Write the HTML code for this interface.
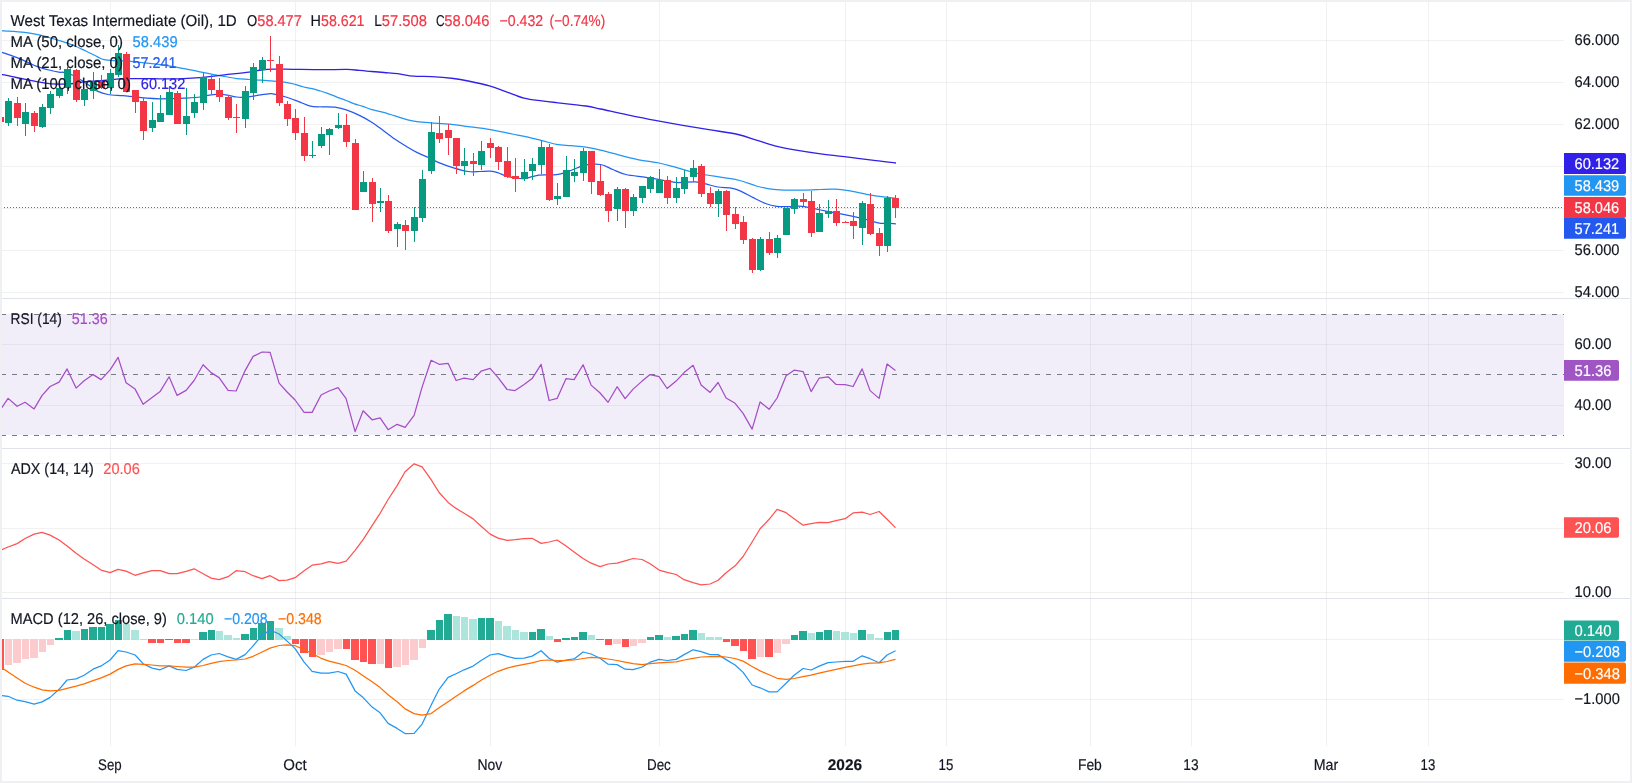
<!DOCTYPE html>
<html><head><meta charset="utf-8"><title>West Texas Intermediate (Oil)</title>
<style>html,body{margin:0;padding:0;background:#fff;}body{width:1632px;height:783px;overflow:hidden;}svg{display:block;}text{font-family:"Liberation Sans", sans-serif;}</style>
</head><body><div style="will-change:transform;width:1632px;height:783px">
<svg width="1632" height="783" viewBox="0 0 1632 783" text-rendering="geometricPrecision">
<rect x="0" y="0" width="1632" height="783" fill="#EEF0F4"/>
<rect x="2" y="2" width="1628" height="779" fill="#fff"/>
<g shape-rendering="crispEdges" fill="rgba(42,46,57,0.065)">
<rect x="110" y="2" width="1" height="744"/>
<rect x="295" y="2" width="1" height="744"/>
<rect x="490" y="2" width="1" height="744"/>
<rect x="659" y="2" width="1" height="744"/>
<rect x="845" y="2" width="1" height="744"/>
<rect x="946" y="2" width="1" height="744"/>
<rect x="1090" y="2" width="1" height="744"/>
<rect x="1191" y="2" width="1" height="744"/>
<rect x="1326" y="2" width="1" height="744"/>
<rect x="1428" y="2" width="1" height="744"/>
<rect x="2" y="40" width="1562" height="1"/>
<rect x="2" y="82" width="1562" height="1"/>
<rect x="2" y="124" width="1562" height="1"/>
<rect x="2" y="166" width="1562" height="1"/>
<rect x="2" y="208" width="1562" height="1"/>
<rect x="2" y="250" width="1562" height="1"/>
<rect x="2" y="292" width="1562" height="1"/>
<rect x="2" y="344" width="1562" height="1"/>
<rect x="2" y="405" width="1562" height="1"/>
<rect x="2" y="463" width="1562" height="1"/>
<rect x="2" y="528" width="1562" height="1"/>
<rect x="2" y="592" width="1562" height="1"/>
<rect x="2" y="639" width="1562" height="1"/>
<rect x="2" y="699" width="1562" height="1"/>
</g>
<g shape-rendering="crispEdges" fill="#E0E3EB">
<rect x="2" y="298" width="1628" height="1"/>
<rect x="2" y="448" width="1628" height="1"/>
<rect x="2" y="598" width="1628" height="1"/>
</g>
<rect x="2" y="314" width="1562" height="121" fill="rgba(126,87,194,0.1)"/>
<line x1="1" y1="314.5" x2="1564" y2="314.5" stroke="#787B86" stroke-width="1" stroke-dasharray="5 6" shape-rendering="crispEdges"/>
<line x1="1" y1="374.5" x2="1564" y2="374.5" stroke="#787B86" stroke-width="1" stroke-dasharray="5 6" shape-rendering="crispEdges"/>
<line x1="1" y1="435.5" x2="1564" y2="435.5" stroke="#787B86" stroke-width="1" stroke-dasharray="5 6" shape-rendering="crispEdges"/>
<path d="M1.2 30.7 C5.1 31.0 18.6 31.7 24.5 32.3 C30.4 32.9 32.7 33.5 36.8 34.4 C40.9 35.3 44.9 36.4 49.0 37.5 C53.1 38.6 57.2 39.9 61.3 41.2 C65.4 42.5 69.5 43.9 73.6 45.5 C77.7 47.1 81.7 49.1 85.8 51.0 C89.9 52.9 95.0 55.7 98.0 57.1 C101.0 58.5 100.9 59.0 104.0 59.6 C107.1 60.2 112.4 60.5 116.5 60.8 C120.6 61.1 123.7 60.8 128.8 61.2 C133.9 61.6 139.8 62.4 147.0 63.2 C154.2 64.0 162.9 64.9 171.7 66.3 C180.5 67.7 193.2 70.5 200.0 71.8 C206.8 73.1 208.2 73.5 212.3 74.3 C216.4 75.1 220.4 75.8 224.5 76.5 C228.6 77.2 232.7 78.1 236.8 78.6 C240.9 79.1 244.9 79.2 249.0 79.5 C253.1 79.8 257.2 79.9 261.3 80.2 C265.4 80.5 269.5 80.8 273.6 81.1 C277.7 81.4 282.2 81.8 285.8 82.3 C289.4 82.8 292.0 83.5 295.0 84.3 C298.0 85.1 300.7 86.3 303.6 87.0 C306.5 87.7 309.4 88.0 312.2 88.7 C315.0 89.4 317.7 90.2 320.5 91.0 C323.3 91.8 326.0 92.8 328.8 93.8 C331.6 94.8 334.6 96.2 337.5 97.3 C340.4 98.4 343.3 99.4 346.1 100.5 C348.9 101.6 351.6 102.9 354.4 103.9 C357.2 104.9 359.9 105.4 362.7 106.3 C365.5 107.2 368.2 108.6 371.0 109.4 C373.8 110.2 376.5 110.7 379.3 111.4 C382.1 112.1 385.0 112.8 387.6 113.6 C390.2 114.3 390.6 114.6 395.0 115.9 C399.4 117.2 407.7 120.0 413.8 121.2 C419.9 122.4 424.9 122.3 431.5 122.9 C438.1 123.5 447.4 124.1 453.5 124.7 C459.6 125.3 462.1 125.8 468.2 126.6 C474.3 127.4 482.9 128.4 490.3 129.6 C497.7 130.8 506.3 132.8 512.4 134.0 C518.5 135.2 522.1 135.8 527.0 136.9 C531.9 138.0 536.9 139.4 541.8 140.6 C546.7 141.8 551.6 143.5 556.5 144.3 C561.4 145.2 566.3 145.2 571.2 145.7 C576.1 146.2 581.0 146.5 585.9 147.2 C590.8 147.9 595.2 148.8 600.6 150.1 C606.0 151.4 612.4 153.2 618.4 154.8 C624.4 156.4 630.0 158.0 636.8 159.4 C643.5 160.8 652.8 161.8 658.9 163.0 C665.0 164.2 668.1 165.2 673.6 166.7 C679.1 168.2 686.5 170.8 692.0 172.2 C697.5 173.6 701.2 174.1 706.7 175.0 C712.2 175.9 719.5 176.9 725.0 177.8 C730.5 178.7 734.6 179.1 739.8 180.5 C745.0 181.9 751.4 184.6 756.3 186.0 C761.2 187.4 764.6 188.1 769.2 188.8 C773.8 189.5 778.4 189.9 783.9 190.1 C789.4 190.3 796.2 190.2 802.3 190.1 C808.4 190.0 815.2 189.7 820.7 189.5 C826.2 189.3 830.8 189.0 835.4 189.2 C840.0 189.4 843.1 189.8 848.3 190.6 C853.5 191.4 861.2 193.3 866.7 194.3 C872.2 195.3 876.6 196.0 881.4 196.7 C886.2 197.4 893.1 198.0 895.5 198.3" fill="none" stroke="#2196F3" stroke-width="1.25" stroke-linejoin="round" stroke-linecap="round"/>
<path d="M1.2 52.2 C3.1 52.8 8.4 54.5 12.3 55.9 C16.2 57.3 20.4 59.1 24.5 60.8 C28.6 62.5 32.7 64.8 36.8 66.3 C40.9 67.8 45.3 69.0 49.0 70.0 C52.7 71.0 56.4 71.8 58.9 72.2 C61.4 72.6 61.3 71.9 63.8 72.4 C66.2 73.0 70.9 74.4 73.6 75.5 C76.2 76.6 77.7 78.0 79.7 79.2 C81.7 80.4 82.8 80.9 85.8 82.9 C88.8 84.9 94.3 89.5 98.0 91.4 C101.7 93.3 103.9 93.8 108.0 94.5 C112.1 95.2 118.1 95.3 122.6 95.7 C127.1 96.1 130.8 96.6 134.9 97.0 C139.0 97.4 142.9 97.9 147.0 98.2 C151.1 98.5 155.3 98.7 159.4 98.8 C163.5 98.9 167.6 98.7 171.7 98.6 C175.8 98.5 179.3 98.5 184.0 98.2 C188.7 97.9 196.1 97.5 200.0 97.0 C203.9 96.5 204.7 95.9 207.4 95.4 C210.1 95.0 213.2 94.4 216.0 94.3 C218.8 94.2 221.0 94.1 224.5 94.6 C228.0 95.0 233.7 96.5 236.8 97.0 C239.9 97.5 240.0 97.5 243.0 97.3 C246.0 97.1 250.5 96.4 255.0 95.8 C259.5 95.2 266.5 93.9 270.0 93.7 C273.5 93.5 273.4 94.0 276.0 94.6 C278.6 95.1 282.1 95.9 285.8 97.0 C289.5 98.1 293.9 99.8 298.0 101.3 C302.1 102.8 306.3 105.3 310.4 106.2 C314.5 107.1 318.5 106.6 322.6 106.8 C326.7 107.0 330.8 106.7 334.9 107.2 C339.0 107.8 342.9 108.7 347.0 110.1 C351.1 111.5 355.3 113.4 359.4 115.4 C363.5 117.4 368.3 120.1 371.7 122.2 C375.1 124.3 376.2 125.3 380.0 128.1 C383.8 130.9 390.3 136.0 394.7 139.1 C399.1 142.2 402.8 144.3 406.5 146.5 C410.2 148.7 413.1 150.6 416.8 152.4 C420.5 154.2 424.8 155.8 428.5 157.5 C432.2 159.2 434.6 160.9 438.8 162.6 C443.0 164.3 448.6 166.3 453.5 167.8 C458.4 169.3 463.8 170.9 468.2 171.5 C472.6 172.1 476.3 171.6 480.0 171.5 C483.7 171.4 487.4 171.0 490.3 171.2 C493.2 171.4 494.7 171.7 497.6 172.6 C500.6 173.5 504.3 175.6 508.0 176.6 C511.7 177.6 516.5 178.2 519.7 178.5 C522.9 178.8 523.8 178.7 527.0 178.1 C530.2 177.5 533.9 175.7 538.8 175.1 C543.7 174.5 551.6 175.3 556.5 174.7 C561.4 174.1 564.5 172.7 568.2 171.5 C571.9 170.3 575.5 168.5 578.5 167.4 C581.5 166.3 582.2 165.4 585.9 164.9 C589.6 164.4 596.1 163.7 600.6 164.5 C605.1 165.3 608.7 167.8 612.9 169.5 C617.1 171.2 620.3 173.2 625.8 174.5 C631.3 175.8 639.6 176.4 646.0 177.4 C652.4 178.4 659.2 179.6 664.4 180.5 C669.6 181.4 672.0 182.5 677.2 182.7 C682.4 182.9 690.7 181.6 695.6 181.8 C700.5 182.1 703.0 183.3 706.7 184.2 C710.4 185.1 713.4 186.3 717.7 187.0 C722.0 187.7 728.4 187.6 732.4 188.4 C736.4 189.2 738.2 190.1 741.6 191.6 C745.0 193.1 748.7 195.4 752.7 197.4 C756.7 199.4 761.5 202.0 765.5 203.5 C769.5 205.0 772.6 205.8 776.6 206.3 C780.6 206.8 785.1 206.6 789.4 206.6 C793.7 206.6 797.1 205.7 802.3 206.3 C807.5 206.9 814.6 208.8 820.7 210.0 C826.8 211.2 833.0 212.4 839.1 213.6 C845.2 214.8 852.6 216.2 857.5 217.3 C862.4 218.4 864.8 219.1 868.5 220.1 C872.2 221.1 876.5 222.7 879.6 223.2 C882.7 223.7 884.2 223.1 886.9 223.2 C889.5 223.3 894.1 223.7 895.5 223.8" fill="none" stroke="#2459F0" stroke-width="1.25" stroke-linejoin="round" stroke-linecap="round"/>
<path d="M1.2 74.3 C3.1 74.7 8.4 75.9 12.3 76.7 C16.2 77.5 20.4 78.4 24.5 79.2 C28.6 80.0 32.7 80.8 36.8 81.6 C40.9 82.3 44.9 83.3 49.0 83.7 C53.1 84.1 57.2 84.1 61.3 84.1 C65.4 84.1 69.5 83.9 73.6 83.5 C77.7 83.1 81.7 82.0 85.8 81.6 C89.9 81.2 93.9 81.3 98.0 81.0 C102.1 80.7 106.3 80.2 110.4 79.8 C114.5 79.4 118.5 78.8 122.6 78.6 C126.7 78.4 130.8 78.6 134.9 78.6 C139.0 78.6 142.9 78.6 147.0 78.6 C151.1 78.6 155.3 78.8 159.4 78.8 C163.5 78.8 167.6 78.8 171.7 78.8 C175.8 78.8 179.3 78.8 184.0 78.6 C188.7 78.4 196.1 77.9 200.0 77.6 C203.9 77.3 203.3 77.2 207.4 76.8 C211.5 76.3 217.6 75.7 224.5 74.9 C231.4 74.1 242.9 72.9 249.0 72.1 C255.1 71.3 257.2 70.5 261.3 70.0 C265.4 69.5 269.5 69.2 273.6 69.1 C277.7 69.0 281.7 69.2 285.8 69.2 C289.9 69.2 291.9 69.3 298.0 69.4 C304.1 69.5 314.4 69.7 322.6 69.7 C330.8 69.7 340.9 69.3 347.0 69.4 C353.1 69.5 355.3 70.1 359.4 70.4 C363.5 70.8 367.6 71.2 371.7 71.5 C375.8 71.8 379.7 72.1 384.0 72.5 C388.3 72.9 392.6 73.1 397.6 73.7 C402.6 74.3 408.2 75.7 413.8 76.2 C419.4 76.7 424.9 76.2 431.5 76.6 C438.1 77.0 447.4 77.8 453.5 78.5 C459.6 79.2 462.1 79.7 468.2 81.0 C474.3 82.3 484.2 84.5 490.3 86.2 C496.4 87.9 499.4 89.3 505.0 91.3 C510.6 93.3 517.9 96.6 524.0 98.2 C530.1 99.8 536.4 100.2 541.8 100.9 C547.2 101.6 549.1 101.8 556.5 102.6 C563.9 103.4 578.5 104.9 585.9 106.0 C593.2 107.1 593.6 107.5 600.6 109.0 C607.6 110.5 618.5 113.0 627.6 114.9 C636.7 116.8 646.0 118.7 655.2 120.4 C664.4 122.1 673.6 123.7 682.8 125.3 C692.0 126.9 701.2 128.4 710.4 129.9 C719.6 131.4 730.4 132.8 738.0 134.5 C745.6 136.2 750.2 138.2 756.3 140.1 C762.4 142.0 768.6 144.3 774.7 145.9 C780.8 147.5 785.4 148.3 793.1 149.6 C800.8 150.9 811.5 152.6 820.7 153.9 C829.9 155.2 839.1 156.1 848.3 157.2 C857.5 158.3 868.0 159.7 875.9 160.7 C883.8 161.7 892.2 162.6 895.5 163.0" fill="none" stroke="#3020E8" stroke-width="1.3" stroke-linejoin="round" stroke-linecap="round"/>
<g shape-rendering="crispEdges">
<rect x="0" y="117" width="1" height="5" fill="#F23645"/>
<rect x="-3" y="117" width="7" height="5" fill="#F23645"/>
<rect x="8" y="98" width="1" height="28" fill="#089981"/>
<rect x="5" y="101" width="7" height="22" fill="#089981"/>
<rect x="17" y="97" width="1" height="29" fill="#F23645"/>
<rect x="14" y="103" width="7" height="15" fill="#F23645"/>
<rect x="25" y="103" width="1" height="33" fill="#089981"/>
<rect x="22" y="112" width="7" height="12" fill="#089981"/>
<rect x="34" y="111" width="1" height="21" fill="#F23645"/>
<rect x="31" y="113" width="7" height="13" fill="#F23645"/>
<rect x="42" y="104" width="1" height="24" fill="#089981"/>
<rect x="39" y="107" width="7" height="20" fill="#089981"/>
<rect x="50" y="91" width="1" height="23" fill="#089981"/>
<rect x="47" y="94" width="7" height="14" fill="#089981"/>
<rect x="59" y="85" width="1" height="13" fill="#089981"/>
<rect x="56" y="88" width="7" height="8" fill="#089981"/>
<rect x="67" y="67" width="1" height="27" fill="#089981"/>
<rect x="64" y="69" width="7" height="19" fill="#089981"/>
<rect x="76" y="69" width="1" height="33" fill="#F23645"/>
<rect x="73" y="70" width="7" height="30" fill="#F23645"/>
<rect x="84" y="89" width="1" height="17" fill="#089981"/>
<rect x="81" y="89" width="7" height="11" fill="#089981"/>
<rect x="93" y="72" width="1" height="27" fill="#089981"/>
<rect x="90" y="81" width="7" height="10" fill="#089981"/>
<rect x="101" y="75" width="1" height="14" fill="#F23645"/>
<rect x="98" y="81" width="7" height="7" fill="#F23645"/>
<rect x="110" y="69" width="1" height="25" fill="#089981"/>
<rect x="107" y="73" width="7" height="15" fill="#089981"/>
<rect x="118" y="45" width="1" height="32" fill="#089981"/>
<rect x="115" y="53" width="7" height="22" fill="#089981"/>
<rect x="126" y="52" width="1" height="40" fill="#F23645"/>
<rect x="123" y="54" width="7" height="38" fill="#F23645"/>
<rect x="135" y="90" width="1" height="23" fill="#F23645"/>
<rect x="132" y="90" width="7" height="12" fill="#F23645"/>
<rect x="143" y="98" width="1" height="42" fill="#F23645"/>
<rect x="140" y="101" width="7" height="30" fill="#F23645"/>
<rect x="152" y="102" width="1" height="30" fill="#089981"/>
<rect x="149" y="120" width="7" height="8" fill="#089981"/>
<rect x="160" y="95" width="1" height="27" fill="#089981"/>
<rect x="157" y="113" width="7" height="9" fill="#089981"/>
<rect x="169" y="86" width="1" height="29" fill="#089981"/>
<rect x="166" y="92" width="7" height="23" fill="#089981"/>
<rect x="177" y="91" width="1" height="33" fill="#F23645"/>
<rect x="174" y="93" width="7" height="31" fill="#F23645"/>
<rect x="186" y="88" width="1" height="47" fill="#089981"/>
<rect x="183" y="116" width="7" height="8" fill="#089981"/>
<rect x="194" y="94" width="1" height="24" fill="#089981"/>
<rect x="191" y="102" width="7" height="11" fill="#089981"/>
<rect x="203" y="73" width="1" height="37" fill="#089981"/>
<rect x="200" y="77" width="7" height="26" fill="#089981"/>
<rect x="211" y="75" width="1" height="19" fill="#F23645"/>
<rect x="208" y="79" width="7" height="11" fill="#F23645"/>
<rect x="219" y="78" width="1" height="24" fill="#F23645"/>
<rect x="216" y="90" width="7" height="7" fill="#F23645"/>
<rect x="228" y="95" width="1" height="25" fill="#F23645"/>
<rect x="225" y="97" width="7" height="21" fill="#F23645"/>
<rect x="236" y="104" width="1" height="29" fill="#F23645"/>
<rect x="233" y="117" width="7" height="1" fill="#F23645"/>
<rect x="245" y="86" width="1" height="42" fill="#089981"/>
<rect x="242" y="91" width="7" height="28" fill="#089981"/>
<rect x="253" y="63" width="1" height="37" fill="#089981"/>
<rect x="250" y="67" width="7" height="26" fill="#089981"/>
<rect x="262" y="57" width="1" height="26" fill="#089981"/>
<rect x="259" y="60" width="7" height="10" fill="#089981"/>
<rect x="270" y="36" width="1" height="36" fill="#F23645"/>
<rect x="267" y="60" width="7" height="1" fill="#F23645"/>
<rect x="279" y="56" width="1" height="50" fill="#F23645"/>
<rect x="276" y="64" width="7" height="39" fill="#F23645"/>
<rect x="287" y="101" width="1" height="25" fill="#F23645"/>
<rect x="284" y="104" width="7" height="15" fill="#F23645"/>
<rect x="295" y="109" width="1" height="31" fill="#F23645"/>
<rect x="292" y="118" width="7" height="15" fill="#F23645"/>
<rect x="304" y="117" width="1" height="44" fill="#F23645"/>
<rect x="301" y="133" width="7" height="23" fill="#F23645"/>
<rect x="312" y="141" width="1" height="17" fill="#089981"/>
<rect x="309" y="155" width="7" height="1" fill="#089981"/>
<rect x="321" y="127" width="1" height="21" fill="#089981"/>
<rect x="318" y="134" width="7" height="12" fill="#089981"/>
<rect x="329" y="128" width="1" height="27" fill="#089981"/>
<rect x="326" y="129" width="7" height="6" fill="#089981"/>
<rect x="338" y="113" width="1" height="16" fill="#089981"/>
<rect x="335" y="125" width="7" height="3" fill="#089981"/>
<rect x="346" y="114" width="1" height="33" fill="#F23645"/>
<rect x="343" y="125" width="7" height="17" fill="#F23645"/>
<rect x="355" y="139" width="1" height="71" fill="#F23645"/>
<rect x="352" y="143" width="7" height="67" fill="#F23645"/>
<rect x="363" y="171" width="1" height="21" fill="#089981"/>
<rect x="360" y="182" width="7" height="10" fill="#089981"/>
<rect x="372" y="178" width="1" height="44" fill="#F23645"/>
<rect x="369" y="182" width="7" height="22" fill="#F23645"/>
<rect x="380" y="188" width="1" height="24" fill="#089981"/>
<rect x="377" y="201" width="7" height="2" fill="#089981"/>
<rect x="388" y="195" width="1" height="38" fill="#F23645"/>
<rect x="385" y="201" width="7" height="30" fill="#F23645"/>
<rect x="397" y="222" width="1" height="25" fill="#089981"/>
<rect x="394" y="224" width="7" height="5" fill="#089981"/>
<rect x="405" y="220" width="1" height="30" fill="#F23645"/>
<rect x="402" y="225" width="7" height="6" fill="#F23645"/>
<rect x="414" y="207" width="1" height="35" fill="#089981"/>
<rect x="411" y="217" width="7" height="14" fill="#089981"/>
<rect x="422" y="170" width="1" height="52" fill="#089981"/>
<rect x="419" y="179" width="7" height="39" fill="#089981"/>
<rect x="431" y="122" width="1" height="52" fill="#089981"/>
<rect x="428" y="132" width="7" height="39" fill="#089981"/>
<rect x="439" y="116" width="1" height="27" fill="#F23645"/>
<rect x="436" y="133" width="7" height="6" fill="#F23645"/>
<rect x="448" y="124" width="1" height="31" fill="#F23645"/>
<rect x="445" y="130" width="7" height="8" fill="#F23645"/>
<rect x="456" y="138" width="1" height="36" fill="#F23645"/>
<rect x="453" y="138" width="7" height="28" fill="#F23645"/>
<rect x="464" y="148" width="1" height="27" fill="#089981"/>
<rect x="461" y="161" width="7" height="5" fill="#089981"/>
<rect x="473" y="153" width="1" height="23" fill="#F23645"/>
<rect x="470" y="161" width="7" height="3" fill="#F23645"/>
<rect x="481" y="141" width="1" height="29" fill="#089981"/>
<rect x="478" y="151" width="7" height="14" fill="#089981"/>
<rect x="490" y="138" width="1" height="20" fill="#F23645"/>
<rect x="487" y="143" width="7" height="5" fill="#F23645"/>
<rect x="498" y="146" width="1" height="24" fill="#F23645"/>
<rect x="495" y="147" width="7" height="15" fill="#F23645"/>
<rect x="507" y="147" width="1" height="31" fill="#F23645"/>
<rect x="504" y="161" width="7" height="16" fill="#F23645"/>
<rect x="515" y="158" width="1" height="34" fill="#F23645"/>
<rect x="512" y="176" width="7" height="3" fill="#F23645"/>
<rect x="524" y="159" width="1" height="22" fill="#089981"/>
<rect x="521" y="172" width="7" height="7" fill="#089981"/>
<rect x="532" y="158" width="1" height="22" fill="#089981"/>
<rect x="529" y="164" width="7" height="7" fill="#089981"/>
<rect x="541" y="140" width="1" height="34" fill="#089981"/>
<rect x="538" y="147" width="7" height="18" fill="#089981"/>
<rect x="549" y="144" width="1" height="57" fill="#F23645"/>
<rect x="546" y="147" width="7" height="53" fill="#F23645"/>
<rect x="557" y="183" width="1" height="22" fill="#089981"/>
<rect x="554" y="196" width="7" height="3" fill="#089981"/>
<rect x="566" y="156" width="1" height="41" fill="#089981"/>
<rect x="563" y="170" width="7" height="27" fill="#089981"/>
<rect x="574" y="159" width="1" height="23" fill="#089981"/>
<rect x="571" y="172" width="7" height="4" fill="#089981"/>
<rect x="583" y="148" width="1" height="33" fill="#089981"/>
<rect x="580" y="151" width="7" height="22" fill="#089981"/>
<rect x="591" y="151" width="1" height="43" fill="#F23645"/>
<rect x="588" y="151" width="7" height="31" fill="#F23645"/>
<rect x="600" y="165" width="1" height="31" fill="#F23645"/>
<rect x="597" y="181" width="7" height="14" fill="#F23645"/>
<rect x="608" y="192" width="1" height="30" fill="#F23645"/>
<rect x="605" y="194" width="7" height="17" fill="#F23645"/>
<rect x="617" y="187" width="1" height="34" fill="#089981"/>
<rect x="614" y="189" width="7" height="20" fill="#089981"/>
<rect x="625" y="188" width="1" height="40" fill="#F23645"/>
<rect x="622" y="189" width="7" height="22" fill="#F23645"/>
<rect x="633" y="194" width="1" height="22" fill="#089981"/>
<rect x="630" y="197" width="7" height="14" fill="#089981"/>
<rect x="642" y="186" width="1" height="17" fill="#089981"/>
<rect x="639" y="186" width="7" height="12" fill="#089981"/>
<rect x="650" y="176" width="1" height="17" fill="#089981"/>
<rect x="647" y="177" width="7" height="12" fill="#089981"/>
<rect x="659" y="169" width="1" height="24" fill="#089981"/>
<rect x="656" y="180" width="7" height="13" fill="#089981"/>
<rect x="667" y="176" width="1" height="28" fill="#F23645"/>
<rect x="664" y="180" width="7" height="18" fill="#F23645"/>
<rect x="676" y="177" width="1" height="26" fill="#089981"/>
<rect x="673" y="188" width="7" height="10" fill="#089981"/>
<rect x="684" y="170" width="1" height="24" fill="#089981"/>
<rect x="681" y="177" width="7" height="12" fill="#089981"/>
<rect x="693" y="160" width="1" height="22" fill="#089981"/>
<rect x="690" y="168" width="7" height="9" fill="#089981"/>
<rect x="701" y="164" width="1" height="33" fill="#F23645"/>
<rect x="698" y="166" width="7" height="28" fill="#F23645"/>
<rect x="710" y="187" width="1" height="20" fill="#F23645"/>
<rect x="707" y="193" width="7" height="11" fill="#F23645"/>
<rect x="718" y="189" width="1" height="28" fill="#089981"/>
<rect x="715" y="191" width="7" height="13" fill="#089981"/>
<rect x="726" y="190" width="1" height="41" fill="#F23645"/>
<rect x="723" y="191" width="7" height="24" fill="#F23645"/>
<rect x="735" y="207" width="1" height="22" fill="#F23645"/>
<rect x="732" y="214" width="7" height="10" fill="#F23645"/>
<rect x="743" y="216" width="1" height="28" fill="#F23645"/>
<rect x="740" y="222" width="7" height="18" fill="#F23645"/>
<rect x="752" y="238" width="1" height="35" fill="#F23645"/>
<rect x="749" y="239" width="7" height="31" fill="#F23645"/>
<rect x="760" y="237" width="1" height="34" fill="#089981"/>
<rect x="757" y="239" width="7" height="31" fill="#089981"/>
<rect x="769" y="232" width="1" height="23" fill="#F23645"/>
<rect x="766" y="239" width="7" height="14" fill="#F23645"/>
<rect x="777" y="235" width="1" height="23" fill="#089981"/>
<rect x="774" y="238" width="7" height="15" fill="#089981"/>
<rect x="786" y="208" width="1" height="27" fill="#089981"/>
<rect x="783" y="208" width="7" height="27" fill="#089981"/>
<rect x="794" y="198" width="1" height="16" fill="#089981"/>
<rect x="791" y="199" width="7" height="10" fill="#089981"/>
<rect x="803" y="193" width="1" height="13" fill="#F23645"/>
<rect x="800" y="199" width="7" height="3" fill="#F23645"/>
<rect x="811" y="191" width="1" height="46" fill="#F23645"/>
<rect x="808" y="201" width="7" height="32" fill="#F23645"/>
<rect x="819" y="204" width="1" height="28" fill="#089981"/>
<rect x="816" y="213" width="7" height="19" fill="#089981"/>
<rect x="828" y="200" width="1" height="18" fill="#089981"/>
<rect x="825" y="211" width="7" height="3" fill="#089981"/>
<rect x="836" y="199" width="1" height="27" fill="#F23645"/>
<rect x="833" y="211" width="7" height="12" fill="#F23645"/>
<rect x="845" y="221" width="1" height="2" fill="#F23645"/>
<rect x="842" y="222" width="7" height="1" fill="#F23645"/>
<rect x="853" y="212" width="1" height="27" fill="#F23645"/>
<rect x="850" y="221" width="7" height="5" fill="#F23645"/>
<rect x="862" y="201" width="1" height="44" fill="#089981"/>
<rect x="859" y="203" width="7" height="25" fill="#089981"/>
<rect x="870" y="193" width="1" height="42" fill="#F23645"/>
<rect x="867" y="204" width="7" height="30" fill="#F23645"/>
<rect x="879" y="228" width="1" height="28" fill="#F23645"/>
<rect x="876" y="233" width="7" height="13" fill="#F23645"/>
<rect x="887" y="196" width="1" height="56" fill="#089981"/>
<rect x="884" y="198" width="7" height="48" fill="#089981"/>
<rect x="895" y="195" width="1" height="23" fill="#F23645"/>
<rect x="892" y="198" width="7" height="10" fill="#F23645"/>
</g>
<line x1="1" y1="207.5" x2="1564" y2="207.5" stroke="#F23645" stroke-width="1" stroke-dasharray="1 2" shape-rendering="crispEdges"/>
<path d="M0.1 410.2 L8.1 398.4 L17.1 406.3 L25.1 402.3 L34.1 408.9 L42.1 395.4 L50.1 386.5 L59.1 382.1 L67.1 368.9 L76.1 388.1 L84.1 380.7 L93.1 374.6 L101.1 379.6 L110.1 369.9 L118.1 357.4 L126.1 382.7 L135.1 389.1 L143.1 404.3 L152.1 397.4 L160.1 391.6 L169.1 376.8 L177.1 395.4 L186.1 390.4 L194.1 380.5 L203.1 364.7 L211.1 372.6 L219.1 377.6 L228.1 390.4 L236.1 391.0 L245.1 370.6 L253.1 356.4 L262.1 352.0 L270.1 352.4 L279.1 383.1 L287.1 392.0 L295.1 400.0 L304.1 412.4 L312.1 412.4 L321.1 395.0 L329.1 391.0 L338.1 387.7 L346.1 398.6 L355.1 431.6 L363.1 410.8 L372.1 419.8 L380.1 417.8 L388.1 429.7 L397.1 424.3 L405.1 427.3 L414.1 415.4 L422.1 387.1 L431.1 360.3 L439.1 364.3 L448.1 363.3 L456.1 380.5 L464.1 378.2 L473.1 379.6 L481.1 371.2 L490.1 368.3 L498.1 377.6 L507.1 389.5 L515.1 390.6 L524.1 384.5 L532.1 378.6 L541.1 364.3 L549.1 400.5 L557.1 398.4 L566.1 378.6 L574.1 379.6 L583.1 364.7 L591.1 385.1 L600.1 393.0 L608.1 402.3 L617.1 386.7 L625.1 398.6 L633.1 389.1 L642.1 381.1 L650.1 374.6 L659.1 376.6 L667.1 388.5 L676.1 381.1 L684.1 372.6 L693.1 365.3 L701.1 385.1 L710.1 392.4 L718.1 382.5 L726.1 398.0 L735.1 403.3 L743.1 413.4 L752.1 429.1 L760.1 401.9 L769.1 409.3 L777.1 398.0 L786.1 375.8 L794.1 370.2 L803.1 371.6 L811.1 391.6 L819.1 378.2 L828.1 376.8 L836.1 384.5 L845.1 384.7 L853.1 386.5 L862.1 368.9 L870.1 390.6 L879.1 398.4 L887.1 363.9 L895.1 370.2" fill="none" stroke="#A44DC6" stroke-width="1.25" stroke-linejoin="round" stroke-linecap="round"/>
<path d="M0.1 550.3 L8.1 547.0 L17.1 543.6 L25.1 538.5 L34.1 534.1 L42.1 532.3 L50.1 535.1 L59.1 540.0 L67.1 546.0 L76.1 553.3 L84.1 558.9 L93.1 564.8 L101.1 570.1 L110.1 572.7 L118.1 569.4 L126.1 571.1 L135.1 575.3 L143.1 572.9 L152.1 570.7 L160.1 570.7 L169.1 573.7 L177.1 573.7 L186.1 571.3 L194.1 568.8 L203.1 573.7 L211.1 578.1 L219.1 579.7 L228.1 576.7 L236.1 570.7 L245.1 571.7 L253.1 575.7 L262.1 578.7 L270.1 575.7 L279.1 580.6 L287.1 580.2 L295.1 577.7 L304.1 570.7 L312.1 565.2 L321.1 563.8 L329.1 561.6 L338.1 563.4 L346.1 561.2 L355.1 550.3 L363.1 539.7 L372.1 525.6 L380.1 513.3 L388.1 499.5 L397.1 485.6 L405.1 471.7 L414.1 463.8 L422.1 466.8 L431.1 479.7 L439.1 492.5 L448.1 502.4 L456.1 508.4 L464.1 513.3 L473.1 518.9 L481.1 526.2 L490.1 534.1 L498.1 538.1 L507.1 540.4 L515.1 539.7 L524.1 538.7 L532.1 538.3 L541.1 543.4 L549.1 542.0 L557.1 540.0 L566.1 546.0 L574.1 551.9 L583.1 558.5 L591.1 563.2 L600.1 566.6 L608.1 564.0 L617.1 563.2 L625.1 560.8 L633.1 558.5 L642.1 559.5 L650.1 563.8 L659.1 570.1 L667.1 572.3 L676.1 574.5 L684.1 579.7 L693.1 582.6 L701.1 584.8 L710.1 584.0 L718.1 580.2 L726.1 572.7 L735.1 565.8 L743.1 556.5 L752.1 542.0 L760.1 528.8 L769.1 519.3 L777.1 509.4 L786.1 512.7 L794.1 518.7 L803.1 525.2 L811.1 523.6 L819.1 522.4 L828.1 522.6 L836.1 520.6 L845.1 518.7 L853.1 512.9 L862.1 512.1 L870.1 514.5 L879.1 511.5 L887.1 519.3 L895.1 527.4" fill="none" stroke="#FF5252" stroke-width="1.25" stroke-linejoin="round" stroke-linecap="round"/>
<g shape-rendering="crispEdges">
<rect x="-3" y="639" width="7" height="31" fill="#FF5252"/>
<rect x="5" y="639" width="7" height="26" fill="#FCCBCD"/>
<rect x="13" y="639" width="8" height="24" fill="#FCCBCD"/>
<rect x="22" y="639" width="7" height="20" fill="#FCCBCD"/>
<rect x="30" y="639" width="8" height="19" fill="#FCCBCD"/>
<rect x="39" y="639" width="7" height="13" fill="#FCCBCD"/>
<rect x="47" y="639" width="7" height="6" fill="#FCCBCD"/>
<rect x="55" y="638" width="8" height="2" fill="#22AB94"/>
<rect x="64" y="630" width="7" height="10" fill="#22AB94"/>
<rect x="72" y="631" width="8" height="9" fill="#ACE5DC"/>
<rect x="81" y="629" width="7" height="11" fill="#22AB94"/>
<rect x="89" y="627" width="8" height="13" fill="#22AB94"/>
<rect x="98" y="627" width="7" height="13" fill="#22AB94"/>
<rect x="106" y="624" width="8" height="16" fill="#22AB94"/>
<rect x="115" y="620" width="7" height="20" fill="#22AB94"/>
<rect x="123" y="624" width="7" height="16" fill="#ACE5DC"/>
<rect x="131" y="630" width="8" height="10" fill="#ACE5DC"/>
<rect x="140" y="639" width="7" height="1" fill="#ACE5DC"/>
<rect x="148" y="639" width="8" height="4" fill="#FF5252"/>
<rect x="157" y="639" width="7" height="4" fill="#FF5252"/>
<rect x="165" y="639" width="8" height="1" fill="#22AB94"/>
<rect x="174" y="639" width="7" height="4" fill="#FF5252"/>
<rect x="182" y="639" width="8" height="4" fill="#FF5252"/>
<rect x="191" y="639" width="7" height="1" fill="#FCCBCD"/>
<rect x="199" y="632" width="8" height="8" fill="#22AB94"/>
<rect x="208" y="630" width="7" height="10" fill="#22AB94"/>
<rect x="216" y="631" width="7" height="9" fill="#ACE5DC"/>
<rect x="224" y="635" width="8" height="5" fill="#ACE5DC"/>
<rect x="233" y="638" width="7" height="2" fill="#ACE5DC"/>
<rect x="241" y="634" width="8" height="6" fill="#22AB94"/>
<rect x="250" y="628" width="7" height="12" fill="#22AB94"/>
<rect x="258" y="623" width="8" height="17" fill="#22AB94"/>
<rect x="267" y="621" width="7" height="19" fill="#22AB94"/>
<rect x="275" y="628" width="8" height="12" fill="#ACE5DC"/>
<rect x="284" y="636" width="7" height="4" fill="#ACE5DC"/>
<rect x="292" y="639" width="7" height="5" fill="#FF5252"/>
<rect x="300" y="639" width="8" height="14" fill="#FF5252"/>
<rect x="309" y="639" width="7" height="18" fill="#FF5252"/>
<rect x="317" y="639" width="8" height="16" fill="#FCCBCD"/>
<rect x="326" y="639" width="7" height="13" fill="#FCCBCD"/>
<rect x="334" y="639" width="8" height="10" fill="#FCCBCD"/>
<rect x="343" y="639" width="7" height="10" fill="#FF5252"/>
<rect x="351" y="639" width="8" height="21" fill="#FF5252"/>
<rect x="360" y="639" width="7" height="23" fill="#FF5252"/>
<rect x="368" y="639" width="8" height="25" fill="#FF5252"/>
<rect x="377" y="639" width="7" height="25" fill="#FCCBCD"/>
<rect x="385" y="639" width="7" height="29" fill="#FF5252"/>
<rect x="393" y="639" width="8" height="28" fill="#FCCBCD"/>
<rect x="402" y="639" width="7" height="26" fill="#FCCBCD"/>
<rect x="410" y="639" width="8" height="21" fill="#FCCBCD"/>
<rect x="419" y="639" width="7" height="9" fill="#FCCBCD"/>
<rect x="427" y="630" width="8" height="10" fill="#22AB94"/>
<rect x="436" y="620" width="7" height="20" fill="#22AB94"/>
<rect x="444" y="614" width="8" height="26" fill="#22AB94"/>
<rect x="453" y="616" width="7" height="24" fill="#ACE5DC"/>
<rect x="461" y="617" width="7" height="23" fill="#ACE5DC"/>
<rect x="469" y="619" width="8" height="21" fill="#ACE5DC"/>
<rect x="478" y="618" width="7" height="22" fill="#22AB94"/>
<rect x="486" y="618" width="8" height="22" fill="#22AB94"/>
<rect x="495" y="621" width="7" height="19" fill="#ACE5DC"/>
<rect x="503" y="626" width="8" height="14" fill="#ACE5DC"/>
<rect x="512" y="630" width="7" height="10" fill="#ACE5DC"/>
<rect x="520" y="632" width="8" height="8" fill="#ACE5DC"/>
<rect x="529" y="632" width="7" height="8" fill="#22AB94"/>
<rect x="537" y="629" width="8" height="11" fill="#22AB94"/>
<rect x="546" y="636" width="7" height="4" fill="#ACE5DC"/>
<rect x="554" y="639" width="7" height="3" fill="#FF5252"/>
<rect x="562" y="638" width="8" height="2" fill="#22AB94"/>
<rect x="571" y="637" width="7" height="3" fill="#22AB94"/>
<rect x="579" y="632" width="8" height="8" fill="#22AB94"/>
<rect x="588" y="635" width="7" height="5" fill="#ACE5DC"/>
<rect x="596" y="639" width="8" height="1" fill="#FF5252"/>
<rect x="605" y="639" width="7" height="6" fill="#FF5252"/>
<rect x="613" y="639" width="8" height="5" fill="#FCCBCD"/>
<rect x="622" y="639" width="7" height="8" fill="#FF5252"/>
<rect x="630" y="639" width="7" height="7" fill="#FCCBCD"/>
<rect x="638" y="639" width="8" height="4" fill="#FCCBCD"/>
<rect x="647" y="637" width="7" height="3" fill="#22AB94"/>
<rect x="655" y="635" width="8" height="5" fill="#22AB94"/>
<rect x="664" y="637" width="7" height="3" fill="#ACE5DC"/>
<rect x="672" y="636" width="8" height="4" fill="#22AB94"/>
<rect x="681" y="634" width="7" height="6" fill="#22AB94"/>
<rect x="689" y="630" width="8" height="10" fill="#22AB94"/>
<rect x="698" y="633" width="7" height="7" fill="#ACE5DC"/>
<rect x="706" y="637" width="8" height="3" fill="#ACE5DC"/>
<rect x="715" y="637" width="7" height="3" fill="#ACE5DC"/>
<rect x="723" y="639" width="7" height="3" fill="#FF5252"/>
<rect x="731" y="639" width="8" height="7" fill="#FF5252"/>
<rect x="740" y="639" width="7" height="12" fill="#FF5252"/>
<rect x="748" y="639" width="8" height="20" fill="#FF5252"/>
<rect x="757" y="639" width="7" height="18" fill="#FCCBCD"/>
<rect x="765" y="639" width="8" height="18" fill="#FF5252"/>
<rect x="774" y="639" width="7" height="14" fill="#FCCBCD"/>
<rect x="782" y="639" width="8" height="5" fill="#FCCBCD"/>
<rect x="791" y="635" width="7" height="5" fill="#22AB94"/>
<rect x="799" y="631" width="8" height="9" fill="#22AB94"/>
<rect x="808" y="633" width="7" height="7" fill="#ACE5DC"/>
<rect x="816" y="632" width="7" height="8" fill="#22AB94"/>
<rect x="824" y="630" width="8" height="10" fill="#22AB94"/>
<rect x="833" y="631" width="7" height="9" fill="#ACE5DC"/>
<rect x="841" y="632" width="8" height="8" fill="#ACE5DC"/>
<rect x="850" y="633" width="7" height="7" fill="#ACE5DC"/>
<rect x="858" y="630" width="8" height="10" fill="#22AB94"/>
<rect x="867" y="634" width="7" height="6" fill="#ACE5DC"/>
<rect x="875" y="638" width="8" height="2" fill="#ACE5DC"/>
<rect x="884" y="632" width="7" height="8" fill="#22AB94"/>
<rect x="892" y="630" width="7" height="10" fill="#22AB94"/>
</g>
<path d="M0.1 695.4 L8.1 696.3 L17.1 700.2 L25.1 701.7 L34.1 704.1 L42.1 701.9 L50.1 697.4 L59.1 689.3 L67.1 680.0 L76.1 678.9 L84.1 675.2 L93.1 669.2 L101.1 665.9 L110.1 660.0 L118.1 650.7 L126.1 652.0 L135.1 655.0 L143.1 663.7 L152.1 668.1 L160.1 669.8 L169.1 665.9 L177.1 669.4 L186.1 670.5 L194.1 667.2 L203.1 659.4 L211.1 655.0 L219.1 653.5 L228.1 656.8 L236.1 659.4 L245.1 654.6 L253.1 645.9 L262.1 635.1 L270.1 630.1 L279.1 634.0 L287.1 641.1 L295.1 648.6 L304.1 662.2 L312.1 671.3 L321.1 673.1 L329.1 673.1 L338.1 671.5 L346.1 674.1 L355.1 690.9 L363.1 697.6 L372.1 707.1 L380.1 712.8 L388.1 723.4 L397.1 728.4 L405.1 733.6 L414.1 733.4 L422.1 724.1 L431.1 705.2 L439.1 689.3 L448.1 677.4 L456.1 673.7 L464.1 669.8 L473.1 666.1 L481.1 660.5 L490.1 655.0 L498.1 653.7 L507.1 656.3 L515.1 658.3 L524.1 658.1 L532.1 656.1 L541.1 650.7 L549.1 658.3 L557.1 662.2 L566.1 660.0 L574.1 658.9 L583.1 652.0 L591.1 654.0 L600.1 658.3 L608.1 664.2 L617.1 664.6 L625.1 669.2 L633.1 669.6 L642.1 667.0 L650.1 662.2 L659.1 659.4 L667.1 660.5 L676.1 659.4 L684.1 654.6 L693.1 649.8 L701.1 651.6 L710.1 654.6 L718.1 654.6 L726.1 659.6 L735.1 665.0 L743.1 672.4 L752.1 685.0 L760.1 687.8 L769.1 691.9 L777.1 691.9 L786.1 683.3 L794.1 675.2 L803.1 668.5 L811.1 670.0 L819.1 666.1 L828.1 662.6 L836.1 662.0 L845.1 661.4 L853.1 661.3 L862.1 655.8 L870.1 658.7 L879.1 662.7 L887.1 655.0 L895.1 651.0" fill="none" stroke="#2196F3" stroke-width="1.25" stroke-linejoin="round" stroke-linecap="round"/>
<path d="M0.1 666.5 L8.1 672.0 L17.1 678.0 L25.1 683.3 L34.1 687.2 L42.1 689.8 L50.1 690.9 L59.1 690.4 L67.1 688.3 L76.1 686.1 L84.1 683.9 L93.1 680.7 L101.1 677.8 L110.1 674.1 L118.1 669.4 L126.1 665.9 L135.1 663.9 L143.1 664.4 L152.1 665.0 L160.1 665.9 L169.1 665.9 L177.1 666.5 L186.1 667.2 L194.1 667.2 L203.1 665.5 L211.1 663.3 L219.1 661.6 L228.1 660.5 L236.1 660.0 L245.1 659.0 L253.1 656.3 L262.1 652.0 L270.1 648.1 L279.1 645.5 L287.1 644.8 L295.1 645.7 L304.1 649.6 L312.1 653.5 L321.1 658.3 L329.1 661.1 L338.1 663.3 L346.1 665.5 L355.1 670.2 L363.1 675.7 L372.1 681.7 L380.1 687.6 L388.1 694.8 L397.1 701.7 L405.1 708.9 L414.1 713.6 L422.1 715.2 L431.1 713.6 L439.1 707.8 L448.1 701.7 L456.1 696.3 L464.1 690.9 L473.1 685.4 L481.1 680.2 L490.1 675.2 L498.1 671.3 L507.1 668.1 L515.1 666.1 L524.1 664.4 L532.1 662.9 L541.1 660.5 L549.1 660.0 L557.1 660.5 L566.1 660.5 L574.1 660.0 L583.1 658.5 L591.1 657.4 L600.1 657.9 L608.1 659.0 L617.1 660.5 L625.1 662.2 L633.1 663.7 L642.1 664.6 L650.1 663.7 L659.1 662.9 L667.1 662.4 L676.1 661.8 L684.1 660.0 L693.1 658.3 L701.1 657.0 L710.1 656.6 L718.1 656.3 L726.1 657.0 L735.1 658.5 L743.1 661.1 L752.1 666.5 L760.1 670.9 L769.1 674.8 L777.1 678.3 L786.1 679.4 L794.1 678.5 L803.1 676.7 L811.1 675.2 L819.1 673.1 L828.1 671.1 L836.1 669.4 L845.1 667.4 L853.1 665.9 L862.1 664.2 L870.1 663.2 L879.1 662.9 L887.1 661.5 L895.1 659.3" fill="none" stroke="#FF6D00" stroke-width="1.25" stroke-linejoin="round" stroke-linecap="round"/>
<rect x="0" y="0" width="2" height="783" fill="#EEF0F4"/>
<text x="10.6" y="26" fill="#131722" stroke="#131722" stroke-width="0.18" font-size="15.7" text-anchor="start" textLength="226.2" lengthAdjust="spacingAndGlyphs">West Texas Intermediate (Oil), 1D</text>
<text x="247" y="26" fill="#131722" stroke="#131722" stroke-width="0.18" font-size="15.7" text-anchor="start" textLength="10.2" lengthAdjust="spacingAndGlyphs">O</text>
<text x="257.3" y="26" fill="#F23645" stroke="#F23645" stroke-width="0.18" font-size="15.7" text-anchor="start" textLength="44.5" lengthAdjust="spacingAndGlyphs">58.477</text>
<text x="310.6" y="26" fill="#131722" stroke="#131722" stroke-width="0.18" font-size="15.7" text-anchor="start" textLength="10.4" lengthAdjust="spacingAndGlyphs">H</text>
<text x="321.0" y="26" fill="#F23645" stroke="#F23645" stroke-width="0.18" font-size="15.7" text-anchor="start" textLength="43.5" lengthAdjust="spacingAndGlyphs">58.621</text>
<text x="374.2" y="26" fill="#131722" stroke="#131722" stroke-width="0.18" font-size="15.7" text-anchor="start" textLength="7.6" lengthAdjust="spacingAndGlyphs">L</text>
<text x="381.8" y="26" fill="#F23645" stroke="#F23645" stroke-width="0.18" font-size="15.7" text-anchor="start" textLength="45.2" lengthAdjust="spacingAndGlyphs">57.508</text>
<text x="435.9" y="26" fill="#131722" stroke="#131722" stroke-width="0.18" font-size="15.7" text-anchor="start" textLength="8.6" lengthAdjust="spacingAndGlyphs">C</text>
<text x="444.3" y="26" fill="#F23645" stroke="#F23645" stroke-width="0.18" font-size="15.7" text-anchor="start" textLength="45.2" lengthAdjust="spacingAndGlyphs">58.046</text>
<text x="499.6" y="26" fill="#F23645" stroke="#F23645" stroke-width="0.18" font-size="15.7" text-anchor="start" textLength="43.6" lengthAdjust="spacingAndGlyphs">−0.432</text>
<text x="549.6" y="26" fill="#F23645" stroke="#F23645" stroke-width="0.18" font-size="15.7" text-anchor="start" textLength="55.6" lengthAdjust="spacingAndGlyphs">(−0.74%)</text>
<text x="10.6" y="47" fill="#131722" stroke="#131722" stroke-width="0.18" font-size="15.7" text-anchor="start" textLength="112.3" lengthAdjust="spacingAndGlyphs">MA (50, close, 0)</text>
<text x="132.6" y="47" fill="#2196F3" stroke="#2196F3" stroke-width="0.18" font-size="15.7" text-anchor="start" textLength="45" lengthAdjust="spacingAndGlyphs">58.439</text>
<text x="10.6" y="68" fill="#131722" stroke="#131722" stroke-width="0.18" font-size="15.7" text-anchor="start" textLength="112.3" lengthAdjust="spacingAndGlyphs">MA (21, close, 0)</text>
<text x="132.6" y="68" fill="#2459F0" stroke="#2459F0" stroke-width="0.18" font-size="15.7" text-anchor="start" textLength="44" lengthAdjust="spacingAndGlyphs">57.241</text>
<text x="10.6" y="89" fill="#131722" stroke="#131722" stroke-width="0.18" font-size="15.7" text-anchor="start" textLength="120.3" lengthAdjust="spacingAndGlyphs">MA (100, close, 0)</text>
<text x="140.8" y="89" fill="#3020E8" stroke="#3020E8" stroke-width="0.18" font-size="15.7" text-anchor="start" textLength="44.5" lengthAdjust="spacingAndGlyphs">60.132</text>
<text x="10.6" y="324" fill="#131722" stroke="#131722" stroke-width="0.18" font-size="15.7" text-anchor="start" textLength="51.2" lengthAdjust="spacingAndGlyphs">RSI (14)</text>
<text x="71.8" y="324" fill="#A44DC6" stroke="#A44DC6" stroke-width="0.18" font-size="15.7" text-anchor="start" textLength="35.8" lengthAdjust="spacingAndGlyphs">51.36</text>
<text x="10.9" y="474" fill="#131722" stroke="#131722" stroke-width="0.18" font-size="15.7" text-anchor="start" textLength="82.9" lengthAdjust="spacingAndGlyphs">ADX (14, 14)</text>
<text x="103.3" y="474" fill="#FF5252" stroke="#FF5252" stroke-width="0.18" font-size="15.7" text-anchor="start" textLength="36.5" lengthAdjust="spacingAndGlyphs">20.06</text>
<text x="10.6" y="624" fill="#131722" stroke="#131722" stroke-width="0.18" font-size="15.7" text-anchor="start" textLength="156.2" lengthAdjust="spacingAndGlyphs">MACD (12, 26, close, 9)</text>
<text x="176.8" y="624" fill="#22AB94" stroke="#22AB94" stroke-width="0.18" font-size="15.7" text-anchor="start" textLength="36.8" lengthAdjust="spacingAndGlyphs">0.140</text>
<text x="224" y="624" fill="#2196F3" stroke="#2196F3" stroke-width="0.18" font-size="15.7" text-anchor="start" textLength="43.5" lengthAdjust="spacingAndGlyphs">−0.208</text>
<text x="278" y="624" fill="#FF6D00" stroke="#FF6D00" stroke-width="0.18" font-size="15.7" text-anchor="start" textLength="43.7" lengthAdjust="spacingAndGlyphs">−0.348</text>
<text x="1574.5" y="45" fill="#131722" stroke="#131722" stroke-width="0.18" font-size="15.5" text-anchor="start" textLength="45" lengthAdjust="spacingAndGlyphs">66.000</text>
<text x="1574.5" y="87" fill="#131722" stroke="#131722" stroke-width="0.18" font-size="15.5" text-anchor="start" textLength="45" lengthAdjust="spacingAndGlyphs">64.000</text>
<text x="1574.5" y="129" fill="#131722" stroke="#131722" stroke-width="0.18" font-size="15.5" text-anchor="start" textLength="45" lengthAdjust="spacingAndGlyphs">62.000</text>
<text x="1574.5" y="255" fill="#131722" stroke="#131722" stroke-width="0.18" font-size="15.5" text-anchor="start" textLength="45" lengthAdjust="spacingAndGlyphs">56.000</text>
<text x="1574.5" y="297" fill="#131722" stroke="#131722" stroke-width="0.18" font-size="15.5" text-anchor="start" textLength="45" lengthAdjust="spacingAndGlyphs">54.000</text>
<text x="1574.5" y="349" fill="#131722" stroke="#131722" stroke-width="0.18" font-size="15.5" text-anchor="start" textLength="37" lengthAdjust="spacingAndGlyphs">60.00</text>
<text x="1574.5" y="410" fill="#131722" stroke="#131722" stroke-width="0.18" font-size="15.5" text-anchor="start" textLength="37" lengthAdjust="spacingAndGlyphs">40.00</text>
<text x="1574.5" y="468" fill="#131722" stroke="#131722" stroke-width="0.18" font-size="15.5" text-anchor="start" textLength="37" lengthAdjust="spacingAndGlyphs">30.00</text>
<text x="1574.5" y="597" fill="#131722" stroke="#131722" stroke-width="0.18" font-size="15.5" text-anchor="start" textLength="37" lengthAdjust="spacingAndGlyphs">10.00</text>
<text x="1574.5" y="704" fill="#131722" stroke="#131722" stroke-width="0.18" font-size="15.5" text-anchor="start" textLength="45.3" lengthAdjust="spacingAndGlyphs">−1.000</text>
<path d="M1564 153 H1624 Q1626 153 1626 155 V172 Q1626 174 1624 174 H1564 Z" fill="#3020E8"/>
<text x="1574.5" y="169.0" fill="#fff" stroke="#fff" stroke-width="0.18" font-size="15.5" text-anchor="start" textLength="44.7" lengthAdjust="spacingAndGlyphs">60.132</text>
<path d="M1564 175.3 H1624 Q1626 175.3 1626 177.3 V193.7 Q1626 195.7 1624 195.7 H1564 Z" fill="#2196F3"/>
<text x="1574.5" y="191.0" fill="#fff" stroke="#fff" stroke-width="0.18" font-size="15.5" text-anchor="start" textLength="44.7" lengthAdjust="spacingAndGlyphs">58.439</text>
<path d="M1564 197 H1624 Q1626 197 1626 199 V216 Q1626 218 1624 218 H1564 Z" fill="#F23645"/>
<text x="1574.5" y="213.0" fill="#fff" stroke="#fff" stroke-width="0.18" font-size="15.5" text-anchor="start" textLength="44.7" lengthAdjust="spacingAndGlyphs">58.046</text>
<path d="M1564 218 H1624 Q1626 218 1626 220 V236.8 Q1626 238.8 1624 238.8 H1564 Z" fill="#2459F0"/>
<text x="1574.5" y="233.9" fill="#fff" stroke="#fff" stroke-width="0.18" font-size="15.5" text-anchor="start" textLength="44.7" lengthAdjust="spacingAndGlyphs">57.241</text>
<path d="M1564 360 H1617 Q1619 360 1619 362 V378.8 Q1619 380.8 1617 380.8 H1564 Z" fill="#A055C5"/>
<text x="1574.5" y="375.9" fill="#fff" stroke="#fff" stroke-width="0.18" font-size="15.5" text-anchor="start" textLength="37" lengthAdjust="spacingAndGlyphs">51.36</text>
<path d="M1564 517.2 H1617 Q1619 517.2 1619 519.2 V535.8 Q1619 537.8 1617 537.8 H1564 Z" fill="#FF5252"/>
<text x="1574.5" y="533.0" fill="#fff" stroke="#fff" stroke-width="0.18" font-size="15.5" text-anchor="start" textLength="37" lengthAdjust="spacingAndGlyphs">20.06</text>
<path d="M1564 620.4 H1617 Q1619 620.4 1619 622.4 V638.6 Q1619 640.6 1617 640.6 H1564 Z" fill="#22AB94"/>
<text x="1574.5" y="636.0" fill="#fff" stroke="#fff" stroke-width="0.18" font-size="15.5" text-anchor="start" textLength="37" lengthAdjust="spacingAndGlyphs">0.140</text>
<path d="M1564 641.1 H1624 Q1626 641.1 1626 643.1 V659.8 Q1626 661.8 1624 661.8 H1564 Z" fill="#2196F3"/>
<text x="1574.5" y="656.95" fill="#fff" stroke="#fff" stroke-width="0.18" font-size="15.5" text-anchor="start" textLength="45.3" lengthAdjust="spacingAndGlyphs">−0.208</text>
<path d="M1564 662.5 H1624 Q1626 662.5 1626 664.5 V681.8 Q1626 683.8 1624 683.8 H1564 Z" fill="#FF6D00"/>
<text x="1574.5" y="678.65" fill="#fff" stroke="#fff" stroke-width="0.18" font-size="15.5" text-anchor="start" textLength="45.3" lengthAdjust="spacingAndGlyphs">−0.348</text>
<text x="109.9" y="770" fill="#131722" stroke="#131722" stroke-width="0.18" font-size="15.5" text-anchor="middle" textLength="23.6" lengthAdjust="spacingAndGlyphs">Sep</text>
<text x="294.9" y="770" fill="#131722" stroke="#131722" stroke-width="0.18" font-size="15.5" text-anchor="middle" textLength="23.3" lengthAdjust="spacingAndGlyphs">Oct</text>
<text x="489.9" y="770" fill="#131722" stroke="#131722" stroke-width="0.18" font-size="15.5" text-anchor="middle" textLength="24.8" lengthAdjust="spacingAndGlyphs">Nov</text>
<text x="658.9" y="770" fill="#131722" stroke="#131722" stroke-width="0.18" font-size="15.5" text-anchor="middle" textLength="23.9" lengthAdjust="spacingAndGlyphs">Dec</text>
<text x="844.9" y="770" fill="#131722" stroke="#131722" stroke-width="0.18" font-size="15.5" text-anchor="middle" textLength="34.4" lengthAdjust="spacingAndGlyphs" font-weight="bold">2026</text>
<text x="945.9" y="770" fill="#131722" stroke="#131722" stroke-width="0.18" font-size="15.5" text-anchor="middle" textLength="14.8" lengthAdjust="spacingAndGlyphs">15</text>
<text x="1089.9" y="770" fill="#131722" stroke="#131722" stroke-width="0.18" font-size="15.5" text-anchor="middle" textLength="23.9" lengthAdjust="spacingAndGlyphs">Feb</text>
<text x="1190.9" y="770" fill="#131722" stroke="#131722" stroke-width="0.18" font-size="15.5" text-anchor="middle" textLength="15.3" lengthAdjust="spacingAndGlyphs">13</text>
<text x="1325.9" y="770" fill="#131722" stroke="#131722" stroke-width="0.18" font-size="15.5" text-anchor="middle" textLength="24.5" lengthAdjust="spacingAndGlyphs">Mar</text>
<text x="1427.9" y="770" fill="#131722" stroke="#131722" stroke-width="0.18" font-size="15.5" text-anchor="middle" textLength="14.7" lengthAdjust="spacingAndGlyphs">13</text>
</svg></div></body></html>
